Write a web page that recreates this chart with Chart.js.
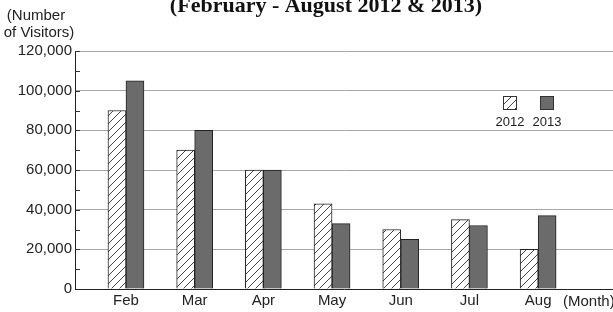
<!DOCTYPE html>
<html>
<head>
<meta charset="utf-8">
<script src="https://cdn.jsdelivr.net/npm/chart.js@4"></script>
<style>
  html, body { margin: 0; padding: 0; background: #fff; }
</style>
</head>
<body>
<canvas id="chart" width="613" height="312"></canvas>
<script>
const months = ["Feb", "Mar", "Apr", "May", "Jun", "Jul", "Aug"];
const years = ["2012", "2013"];
const visitors2012 = [90000, 70000, 60000, 43000, 30000, 35000, 20000];
const visitors2013 = [105000, 80000, 60000, 33000, 25000, 32000, 37000];
const yMax = 120000;
const yStep = 20000;
const yMinorStep = 10000;

const FONT = '"Liberation Sans", Arial, sans-serif';
const TEXT = "#222";

// diagonal hatch for the 2012 bars
function hatch() {
  const c = document.createElement("canvas");
  c.width = 8; c.height = 8;
  const g = c.getContext("2d");
  g.fillStyle = "#fff";
  g.fillRect(0, 0, 8, 8);
  g.strokeStyle = "#444";
  g.lineWidth = 1;
  g.beginPath();
  g.moveTo(-1, 9); g.lineTo(9, -1);
  g.moveTo(-5, 5); g.lineTo(5, -5);
  g.moveTo(3, 13); g.lineTo(13, 3);
  g.stroke();
  return g.createPattern(c, "repeat");
}
const hatchFill = hatch();

const toPoints = (arr) => arr.map((v, i) => ({ x: i, y: v }));

const extras = {
  id: "extras",
  afterDraw(chart) {
    const { ctx, scales } = chart;
    const y = scales.y;
    ctx.save();

    // short inner ticks on the y axis
    ctx.strokeStyle = "#333";
    ctx.lineWidth = 1;
    for (let v = yMinorStep; v <= yMax; v += yMinorStep) {
      const py = Math.round(y.getPixelForValue(v)) + 0.5;
      ctx.beginPath();
      ctx.moveTo(y.right, py);
      ctx.lineTo(y.right + 5, py);
      ctx.stroke();
    }

    // title (cut at the top as in the source)
    ctx.fillStyle = "#111";
    ctx.font = 'bold 22px "Liberation Serif", serif';
    ctx.textAlign = "center";
    ctx.textBaseline = "alphabetic";
    ctx.fillText("(February - August 2012 & 2013)", 326, 12);

    // axis titles
    ctx.fillStyle = TEXT;
    ctx.font = "15px " + FONT;
    ctx.fillText("(Number", 36, 20);
    ctx.fillText("of Visitors)", 39, 37);
    ctx.textAlign = "left";
    ctx.fillText("(Month)", 563, 306);

    // legend, boxes above the labels
    const items = chart.data.datasets;
    const boxX = [503, 540];
    items.forEach((ds, i) => {
      ctx.fillStyle = ds.backgroundColor;
      ctx.fillRect(boxX[i], 96, 14, 14);
      ctx.strokeStyle = "#333";
      ctx.strokeRect(boxX[i] + 0.5, 96.5, 13, 13);
      ctx.fillStyle = TEXT;
      ctx.font = "13px " + FONT;
      ctx.textAlign = "center";
      ctx.fillText(ds.label, boxX[i] + 7, 126);
    });
    ctx.restore();
  }
};

new Chart(document.getElementById("chart"), {
  type: "bar",
  data: {
    datasets: [
      {
        label: years[0],
        data: toPoints(visitors2012),
        backgroundColor: hatchFill,
        borderColor: "#222",
        borderWidth: 1,
        barThickness: 18,
      },
      {
        label: years[1],
        data: toPoints(visitors2013),
        backgroundColor: "#6b6b6b",
        borderColor: "#222",
        borderWidth: 1,
        barThickness: 18,
      },
    ],
  },
  options: {
    responsive: false,
    animation: false,
    layout: { padding: { top: 51, right: 0, bottom: 0, left: 0 } },
    plugins: { legend: { display: false }, tooltip: { enabled: false } },
    scales: {
      x: {
        type: "linear",
        offset: false,
        min: -0.742,
        max: 7.09,
        grid: { display: false, drawTicks: false, offset: false },
        border: { display: true, color: "#222", width: 1 },
        afterBuildTicks: (s) => { s.ticks = months.map((m, i) => ({ value: i })); },
        afterFit: (s) => { s.height = 23; },
        ticks: {
          autoSkip: false,
          maxRotation: 0,
          padding: 3,
          color: TEXT,
          font: { family: FONT, size: 15 },
          callback: (v) => months[v] ?? "",
        },
      },
      y: {
        min: 0,
        max: yMax,
        afterFit: (s) => { s.width = 75; },
        grid: {
          drawTicks: false,
          color: (c) => (c.tick && c.tick.value === 0 ? "rgba(0,0,0,0)" : "#a8a8a8"),
        },
        border: { display: true, color: "#222", width: 1 },
        ticks: {
          stepSize: yStep,
          padding: 3,
          color: TEXT,
          font: { family: FONT, size: 15 },
          callback: (v) => v.toLocaleString("en-US"),
        },
      },
    },
  },
  plugins: [extras],
});
</script>
</body>
</html>
